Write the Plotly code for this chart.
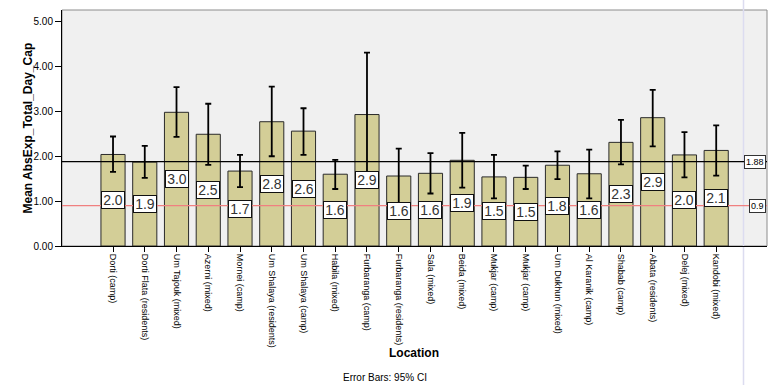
import plotly.graph_objects as go

locations = ["Dorti (camp)", "Dorti Flata (residents)", "Um Tajouk (mixed)", "Azerni (mixed)",
             "Mornei (camp)", "Um Shalaya (residents)", "Um Shalaya (camp)", "Habila (mixed)",
             "Furbaranga (camp)", "Furbaranga (residents)", "Sala (mixed)", "Beida (mixed)",
             "Mukjar (camp)", "Mukjar (camp)", "Um Dukhun (mixed)", "Al Karanik (camp)",
             "Shabab (camp)", "Abata (residents)", "Delej (mixed)", "Kandobi (mixed)"]
means = [2.04, 1.87, 2.98, 2.49, 1.67, 2.77, 2.56, 1.60, 2.93, 1.56,
         1.62, 1.91, 1.54, 1.53, 1.80, 1.61, 2.31, 2.86, 2.03, 2.13]
ci_upper = [2.44, 2.23, 3.54, 3.17, 2.03, 3.55, 3.07, 1.92, 4.31, 2.17,
            2.07, 2.52, 2.03, 1.79, 2.11, 2.15, 2.81, 3.48, 2.54, 2.69]
ci_lower = [1.65, 1.52, 2.43, 1.81, 1.31, 2.00, 2.03, 1.27, 1.56, 0.95,
            1.17, 1.30, 1.06, 1.27, 1.49, 1.06, 1.82, 2.22, 1.53, 1.57]
ref_lines = [1.88, 0.9]
ref_labels = ["1.88", "0.9"]
ref_colors = ["#000000", "#F08080"]

xs = list(range(len(locations)))
err_plus = [u - m for u, m in zip(ci_upper, means)]
err_minus = [m - l for m, l in zip(means, ci_lower)]

# plot area in pixels: x 62..767, y 10..246
PL, PR, PT, PB = 62, 767, 10, 246
def px_x(p):
    return (p - PL) / (PR - PL)
def px_y(p):
    return (PB - p) / (PB - PT)

fig = go.Figure()
fig.add_trace(go.Bar(
    x=xs, y=means, width=0.76,
    marker=dict(color="#D3CE97", line=dict(color="#2A2A2A", width=1)),
    error_y=dict(type="data", array=err_plus, arrayminus=err_minus,
                 color="#000000", thickness=1.8, width=3),
    showlegend=False, hoverinfo="skip"))

shapes = [
    dict(type="rect", xref="paper", yref="paper", x0=0, x1=1, y0=0, y1=1,
         line=dict(color="#8C8C8C", width=1), layer="below"),
    dict(type="line", xref="paper", yref="paper", x0=px_x(743.5), x1=px_x(743.5),
         y0=px_y(400), y1=px_y(-10), line=dict(color="#DCDCF0", width=1.5), layer="below"),
]
annotations = []
for v, lab, c in zip(ref_lines, ref_labels, ref_colors):
    shapes.append(dict(type="line", xref="paper", yref="y", x0=0, x1=1, y0=v, y1=v,
                       line=dict(color=c, width=1.2), layer="above"))
    annotations.append(dict(x=px_x(766), xref="paper", y=v, yref="y", text=lab, showarrow=False,
                            xanchor="right", yanchor="middle",
                            font=dict(family="Liberation Sans", size=9, color="#000"),
                            bgcolor="white", bordercolor="#333", borderwidth=1, borderpad=1))

for x, m in zip(xs, means):
    annotations.append(dict(x=x, y=m / 2, xref="x", yref="y", text=f"{m:.1f}", showarrow=False,
                            width=22, height=16,
                            font=dict(family="Liberation Sans", size=14, color="#333"),
                            bgcolor="white", bordercolor="#111", borderwidth=1, borderpad=0))

annotations.append(dict(x=px_x(27.5), xref="paper", y=px_y(128), yref="paper",
                        text="<b>Mean AbsExp_Total_Day_Cap</b>", textangle=-90, showarrow=False,
                        xanchor="center", yanchor="middle",
                        font=dict(family="Liberation Sans", size=12, color="#000")))
annotations.append(dict(x=px_x(414), xref="paper", y=px_y(353), yref="paper",
                        text="<b>Location</b>", showarrow=False, xanchor="center", yanchor="middle",
                        font=dict(family="Liberation Sans", size=12, color="#000")))
annotations.append(dict(x=px_x(385), xref="paper", y=px_y(377), yref="paper",
                        text="Error Bars: 95% CI", showarrow=False, xanchor="center", yanchor="middle",
                        font=dict(family="Liberation Sans", size=10, color="#000")))

fig.update_layout(
    width=772, height=385,
    margin=dict(l=PL, r=772 - PR, t=PT, b=385 - PB),
    paper_bgcolor="white", plot_bgcolor="#F0F0F0",
    shapes=shapes, annotations=annotations,
    xaxis=dict(
        range=[-1.607, 20.6], tickmode="array", tickvals=xs, ticktext=locations,
        tickangle=90, tickfont=dict(family="Liberation Sans", size=9, color="#000"),
        ticks="outside", ticklen=5, tickcolor="#000", showline=True, linecolor="#000", linewidth=1,
        showgrid=False, zeroline=False, automargin=False,
    ),
    yaxis=dict(
        range=[0, 5.26], tickmode="array", tickvals=[0, 1, 2, 3, 4, 5],
        ticktext=["0.00", "1.00", "2.00", "3.00", "4.00", "5.00"],
        tickfont=dict(family="Liberation Sans", size=10, color="#000"),
        ticks="outside", ticklen=6, tickcolor="#000", showline=True, linecolor="#000", linewidth=1,
        showgrid=False, zeroline=False, automargin=False,
    ),
)
fig.write_html("out.html", config={"displayModeBar": False},
               post_script="document.body.style.margin='0';document.body.style.overflow='hidden';")
